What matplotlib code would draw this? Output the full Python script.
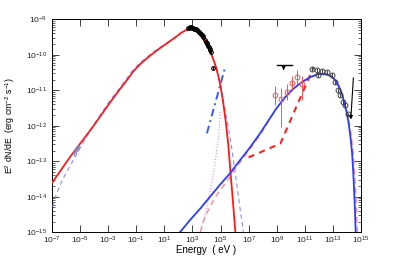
import numpy as np
import matplotlib
matplotlib.use("Agg")
import matplotlib.pyplot as plt
from matplotlib.patches import FancyArrowPatch
from matplotlib.ticker import FixedLocator, LogFormatterMathtext, NullFormatter

plt.rcParams['font.family'] = ['Liberation Sans', 'DejaVu Sans']
plt.rcParams['mathtext.fontset'] = 'custom'
plt.rcParams['mathtext.rm'] = 'Liberation Sans'
plt.rcParams['mathtext.it'] = 'Liberation Sans:italic'

# ---- model curves (log10 E [eV], log10 E^2 dN/dE [erg cm^-2 s^-1]) ----
sync_logE = [-6.98, -5.70, -4.06, -2.85, -2.14, -1.57, -1.21, -0.71, 0.00, 0.70, 1.21, 1.78, 2.20, 2.56, 2.84,
             3.12, 3.41, 3.77, 4.13, 4.41, 4.70, 4.94, 5.16, 5.37, 5.55, 5.69, 5.87, 6.05]
sync_logF = [-13.61, -12.88, -12.02, -11.34, -10.96, -10.67, -10.47, -10.26, -10.02, -9.81, -9.67, -9.51, -9.38,
             -9.30, -9.28, -9.30, -9.37, -9.54, -9.78, -10.05, -10.37, -10.77, -11.27, -11.89, -12.54, -13.24,
             -14.09, -14.99]

sync2_logE = [-6.93, -6.69, -6.41, -6.05, -5.58, -4.99, -4.06, -2.85, -2.14, -1.21, -0.71, 0.00, 0.70, 1.21, 1.78,
              2.20, 2.56, 2.84, 3.12, 3.41, 3.77, 4.13, 4.41, 4.70, 4.94, 5.16, 5.46, 5.76, 6.01, 6.30, 6.62]
sync2_logF = [-14.28, -13.95, -13.67, -13.38, -13.05, -12.63, -12.00, -11.28, -10.92, -10.42, -10.22, -9.99,
              -9.79, -9.66, -9.50, -9.38, -9.30, -9.28, -9.30, -9.37, -9.54, -9.78, -10.05, -10.37, -10.77,
              -11.22, -11.84, -12.54, -13.24, -14.09, -14.99]

ic_logE = [2.13, 2.84, 3.56, 4.27, 4.98, 5.69, 6.40, 7.11, 7.83, 8.40, 8.97, 9.58, 10.10, 10.77, 11.38, 11.95,
           12.52, 12.88, 13.17, 13.41, 13.63, 13.80, 13.97, 14.11, 14.23, 14.34, 14.42, 14.49, 14.55, 14.60]
ic_logF = [-14.99, -14.65, -14.33, -13.99, -13.65, -13.33, -12.96, -12.60, -12.20, -11.85, -11.51, -11.20, -10.98,
           -10.77, -10.63, -10.54, -10.55, -10.61, -10.72, -10.89, -11.10, -11.36, -11.64, -11.95, -12.32, -12.74,
           -13.24, -13.81, -14.37, -14.99]

ic2_logE = [3.56, 3.77, 4.03, 4.27, 4.62, 4.98, 5.41, 5.90, 6.40, 7.11, 7.83, 8.42, 8.97, 9.58, 10.10, 10.77,
            11.38, 11.95, 12.52, 12.88, 13.17, 13.41, 13.63, 13.82, 14.00, 14.16, 14.30, 14.42, 14.51, 14.60,
            14.66, 14.72]
ic2_logF = [-14.99, -14.70, -14.46, -14.26, -14.01, -13.81, -13.58, -13.30, -13.02, -12.64, -12.25, -11.86,
            -11.51, -11.20, -10.98, -10.77, -10.63, -10.54, -10.55, -10.61, -10.72, -10.89, -11.10, -11.36,
            -11.64, -11.95, -12.32, -12.74, -13.24, -13.81, -14.37, -14.99]

had_logE = [6.99, 9.25, 11.62]
had_logF = [-12.89, -12.50, -10.34]

dd_logE = [4.03, 5.33]
dd_logF = [-12.21, -10.34]

dot_logE = [3.56, 3.98, 4.41, 4.69, 4.91, 4.98]
dot_logF = [-14.99, -14.37, -13.52, -12.82, -12.11, -11.55]

# ---- data points ----
xr_logE = [2.70, 2.78, 2.85, 2.93, 3.00, 3.06, 3.12, 3.19, 3.26, 3.34, 3.41, 3.48, 3.55, 3.62, 3.67, 3.72,
           3.77, 3.92, 3.98, 4.03, 4.07, 4.13, 4.18, 4.22, 4.26, 4.30, 4.48]
xr_logF = [-9.25, -9.24, -9.23, -9.23, -9.24, -9.25, -9.26, -9.27, -9.28, -9.30, -9.32, -9.35, -9.38, -9.41,
           -9.44, -9.46, -9.49, -9.59, -9.63, -9.67, -9.70, -9.75, -9.79, -9.83, -9.87, -9.91, -10.37]

opt_logE = [-5.45, -5.30, -5.15]
opt_logF = [-12.75, -12.68, -12.60]

lat_logE = [8.89, 9.28, 9.70, 10.08, 10.44, 10.81]
lat_logF = [-11.13, -11.25, -11.04, -10.80, -10.63, -10.83]
lat_lo = [-11.42, -12.03, -11.27, -10.99, -10.82, -11.27]
lat_hi = [-10.88, -10.94, -10.82, -10.60, -10.43, -10.60]

ul_logE, ul_lo, ul_hi, ul_logF = 9.48, 9.01, 10.08, -10.29

tev_logE = [11.48, 11.83, 11.95, 12.19, 12.54, 12.90, 13.14, 13.38, 13.50, 13.73, 13.85, 14.04]
tev_logF = [-10.40, -10.43, -10.57, -10.46, -10.49, -10.57, -10.76, -10.99, -11.13, -11.32, -11.41, -11.68]

ul2_start = (14.45, -10.57)
ul2_end = (14.24, -11.90)

xtick_exp = [-7, -5, -3, -1, 1, 3, 5, 7, 9, 11, 13, 15]
ytick_exp = [-15, -14, -13, -12, -11, -10, -9]


def p(a):
    return 10.0 ** np.asarray(a, dtype=float)


fig = plt.figure(figsize=(3.99, 2.62), dpi=100)
ax = fig.add_axes([0.1296, 0.1134, 0.7759, 0.8129])

ax.plot(p(sync2_logE), p(sync2_logF), color='#8c8cff', lw=0.8, ls=(0, (4, 3)), zorder=3)
ax.plot(p(dot_logE), p(dot_logF), color='#e08cff', lw=0.8, ls=':', zorder=3)
ax.plot(p(dd_logE), p(dd_logF), color='#3a5cff', lw=1.4, ls=(0, (4, 2, 1, 2)), zorder=3)
ax.plot(p(ic2_logE), p(ic2_logF), color='#ff8a8a', lw=1.0, ls=(0, (4, 3)), zorder=3)
ax.plot(p(had_logE), p(had_logF), color='#ff2020', lw=1.5, ls=(0, (3, 2.5)), zorder=4)
ax.plot(p(sync_logE), p(sync_logF), color='#ff1a1a', lw=1.3, zorder=5)
ax.plot(p(ic_logE), p(ic_logF), color='#2a3cff', lw=1.3, zorder=5)

# data
ax.errorbar(p(xr_logE), p(xr_logF), yerr=[p(xr_logF) * 0.1, p(xr_logF) * 0.1],
            fmt='o', ms=2.6, mfc='none', mec='black', mew=0.8, ecolor='black', elinewidth=0.7, zorder=6)
ax.errorbar(p(opt_logE), p(opt_logF), yerr=[p(opt_logF) * 0.2, p(opt_logF) * 0.2],
            fmt='o', ms=2, mfc='none', mec='#8080b0', mew=0.6, ecolor='#8080b0', elinewidth=0.6, zorder=6)
lf = p(lat_logF)
ax.errorbar(p(lat_logE), lf, yerr=[lf - p(lat_lo), p(lat_hi) - lf],
            fmt='o', ms=3.5, mfc='none', mec='#ff5050', mew=0.7, ecolor='#ff5050', elinewidth=0.7, zorder=6)
tf = p(tev_logF)
ax.errorbar(p(tev_logE), tf, yerr=[tf * 0.12, tf * 0.12],
            fmt='o', ms=3.5, mfc='none', mec='#404040', mew=0.7, ecolor='#404040', elinewidth=0.7, zorder=6)

# upper limits
ax.plot([p(ul_lo), p(ul_hi)], [p(ul_logF), p(ul_logF)], color='black', lw=1.0, zorder=7)
ax.add_patch(FancyArrowPatch((p(ul_logE), p(ul_logF)), (p(ul_logE), p(ul_logF - 0.22)),
                             arrowstyle='-|>', color='black', lw=0.9, mutation_scale=5, zorder=7))
ax.add_patch(FancyArrowPatch((p(ul2_start[0]), p(ul2_start[1])), (p(ul2_end[0]), p(ul2_end[1])),
                             arrowstyle='-|>', color='black', lw=0.8, mutation_scale=5, zorder=7))

ax.set_xscale('log')
ax.set_yscale('log')
ax.set_xlim(1e-7, 1e15)
ax.set_ylim(1e-15, 1e-9)

ax.xaxis.set_major_locator(FixedLocator(p(xtick_exp)))
ax.xaxis.set_major_formatter(LogFormatterMathtext())
ax.xaxis.set_minor_locator(FixedLocator([]))
ax.yaxis.set_major_locator(FixedLocator(p(ytick_exp)))
ax.yaxis.set_major_formatter(LogFormatterMathtext())
yminor = [m * 10.0 ** e for e in ytick_exp[:-1] for m in range(2, 10)]
ax.yaxis.set_minor_locator(FixedLocator(yminor))
ax.yaxis.set_minor_formatter(NullFormatter())

ax.tick_params(which='both', direction='in', top=True, right=True, labelsize=6, colors='#222222')
ax.tick_params(which='major', length=5, width=0.6)
ax.tick_params(which='minor', length=2.5, width=0.5)
ax.tick_params(axis='x', pad=1.5)
for s in ax.spines.values():
    s.set_linewidth(0.7)

ax.set_xlabel('Energy  ( eV )', fontsize=7)
ax.xaxis.set_label_coords(0.5, -0.062)
ax.set_ylabel(r'E$^2$ dN/dE  (erg cm$^{-2}$ s$^{-1}$)', fontsize=6.3)
ax.yaxis.set_label_coords(-0.112, 0.5)

fig.savefig('out.png', dpi=100)
